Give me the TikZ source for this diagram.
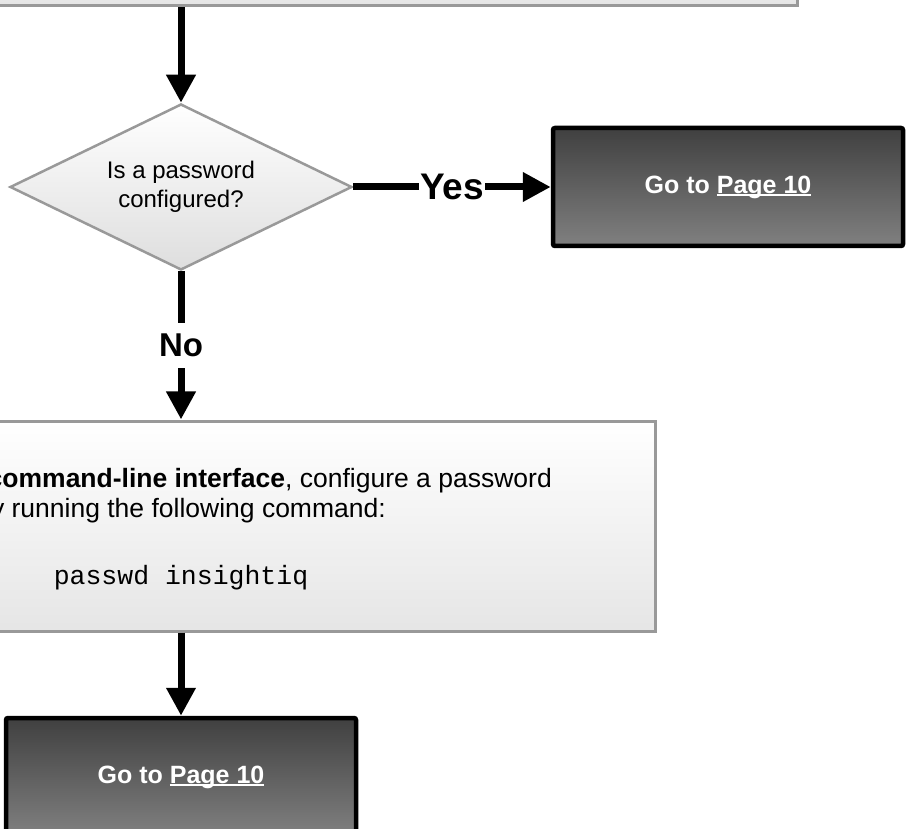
\documentclass[tikz,border=0pt]{standalone}
\usepackage{fontspec}
\setmainfont{Liberation Sans}
\setmonofont{Liberation Mono}
\usetikzlibrary{arrows.meta,shapes.geometric}

\definecolor{edgegray}{HTML}{999999}
\definecolor{darktop}{HTML}{404040}
\definecolor{darkbot}{HTML}{808080}

% underlined link text with the rule close to the baseline
\newcommand{\linktext}[1]{\setbox0\hbox{#1}\rlap{\rule[-3pt]{\wd0}{2pt}}\box0}

\tikzset{
  lightbox/.style={draw=edgegray, line width=3pt, shading=axis,
    top color=white, bottom color=black!10, inner sep=0pt},
  darkbox/.style={draw=black, line width=4.5pt, rounded corners=2pt,
    shading=axis, top color=darktop, bottom color=darkbot,
    minimum width=350pt, minimum height=118pt, text=white,
    font=\fontsize{25}{30}\selectfont\bfseries},
  decision/.style={diamond, aspect=2.06, draw=edgegray, line width=2.5pt,
    shading=axis, top color=white, bottom color=black!13,
    minimum width=342pt, minimum height=166pt, inner sep=2pt,
    align=center, font=\fontsize{24}{29}\selectfont},
  flow/.style={line width=7pt, -{Triangle[length=28pt,width=28pt]}},
  branchlabel/.style={fill=white, inner xsep=1pt, inner ysep=11pt,
    font=\fontsize{33}{36}\selectfont\bfseries},
  bodytext/.style={inner sep=0pt, font=\fontsize{26.5}{32}\selectfont}
}

\begin{document}
\begin{tikzpicture}[x=1pt,y=-1pt]
  \useasboundingbox (0,0) rectangle (906,829);
  \clip (0,0) rectangle (906,829);

  % previous step (runs off the top and left)
  \node[lightbox, minimum width=1097pt, minimum height=106pt] (prev) at (248.5,-47) {};

  % decision
  \node[decision] (dec) at (181,187) {Is a password\\configured?};

  % yes branch target
  \node[darkbox] (yesbox) at (728,187) {Go to \linktext{Page 10}};

  % configuration step (runs off the left)
  \node[lightbox, minimum width=948pt, minimum height=210pt] (cmdbox) at (181,526) {};
  \node[bodytext, anchor=base east] (cmdA) at (552,487)
    {\textbf{command-line interface}, configure a password};
  \node[bodytext, anchor=base east] (cmdB) at (386,517)
    {by running the following command:};
  \node[bodytext, anchor=base] (cmdC) at (181,584)
    {\ttfamily passwd insightiq};

  % final target (runs off the bottom)
  \node[darkbox] (endbox) at (181,777) {Go to \linktext{Page 10}};

  % connectors
  \draw[flow] (dec.north |- prev.south) -- (dec.north);
  \draw[flow] (dec.east) -- node[branchlabel, font=\fontsize{37}{40}\selectfont\bfseries] (yeslbl) {Yes} (yesbox.west);
  \draw[flow] (dec.south) -- node[branchlabel] (nolbl) {No} (cmdbox.north);
  \draw[flow] (cmdbox.south) -- (endbox.north);
\end{tikzpicture}
\end{document}
